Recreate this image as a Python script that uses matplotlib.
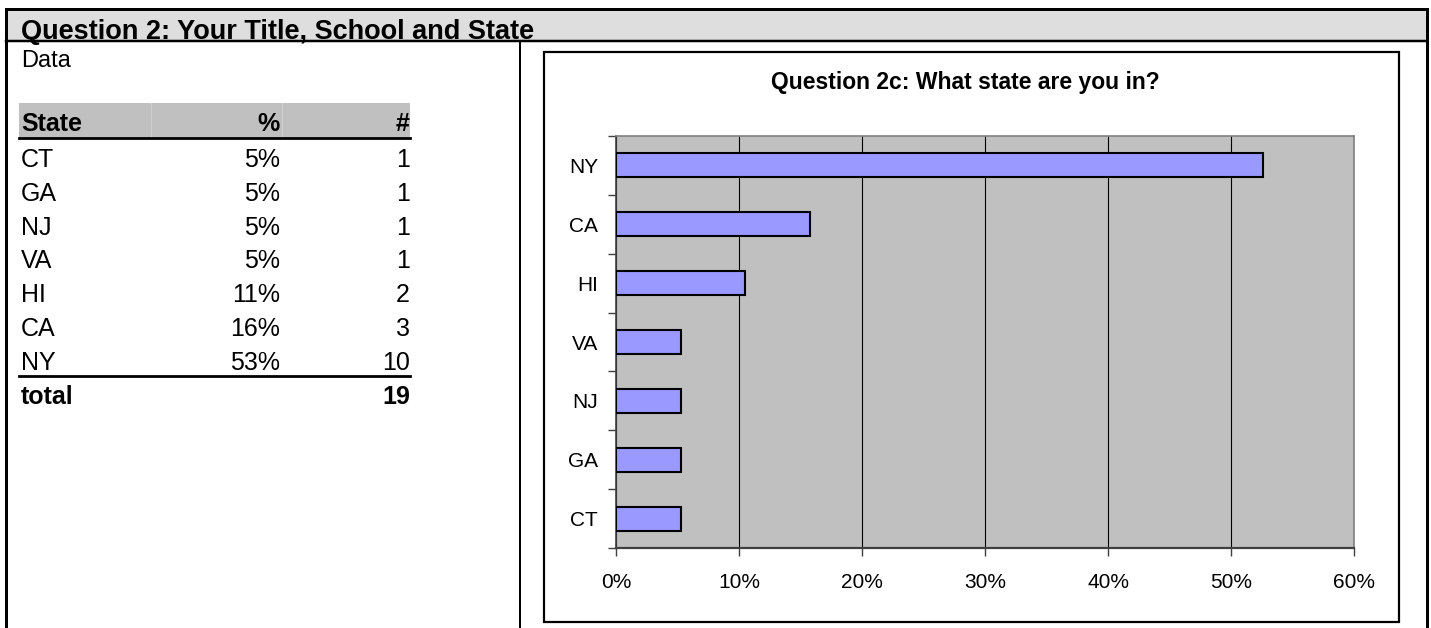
import matplotlib.pyplot as plt
from matplotlib.lines import Line2D
from matplotlib.patches import Rectangle

states = ['CT', 'GA', 'NJ', 'VA', 'HI', 'CA', 'NY']
counts = [1, 1, 1, 1, 2, 3, 10]
total = sum(counts)
shares = [100 * c / total for c in counts]

title = 'Question 2: Your Title, School and State'
chart_title = 'Question 2c: What state are you in?'
x_ticks = [0, 10, 20, 30, 40, 50, 60]

plt.rcParams['font.family'] = ['Liberation Sans', 'DejaVu Sans']

W, H = 1431, 628
fig = plt.figure(figsize=(W / 100, H / 100), dpi=100)

# page layer in pixel coordinates
page = fig.add_axes([0, 0, 1, 1])
page.set_xlim(0, W)
page.set_ylim(H, 0)
page.axis('off')

page.add_patch(Rectangle((6, 9), 1421, 32, facecolor='#dedede', edgecolor='none'))
for x0, y0, x1, y1, lw in [(6, 9, 1427, 9, 3), (6, 41, 1427, 41, 2.5),
                           (6, 9, 6, H, 3), (1427, 9, 1427, H, 3),
                           (520, 41, 520, H, 2)]:
    page.add_line(Line2D([x0, x1], [y0, y1], color='black', lw=lw * 0.72,
                         solid_capstyle='projecting'))
page.text(21, 39, title, fontsize=19.5, fontweight='bold', va='baseline')
page.text(21, 67, 'Data', fontsize=17, va='baseline')

# data table
page.add_patch(Rectangle((19, 103), 391, 35, facecolor='#c0c0c0', edgecolor='none'))
for xc in [151, 282]:
    page.add_line(Line2D([xc, xc], [103, 137], color='#d0d0d0', lw=0.8))
page.add_line(Line2D([19, 410], [138, 138], color='black', lw=2))
page.add_line(Line2D([19, 410], [376, 376], color='black', lw=2))
page.text(21, 131, 'State', fontsize=18, fontweight='bold', va='baseline')
page.text(280, 131, '%', fontsize=18, fontweight='bold', va='baseline', ha='right')
page.text(410, 131, '#', fontsize=18, fontweight='bold', va='baseline', ha='right')
for i, (s, p, c) in enumerate(zip(states, shares, counts)):
    y = 167 + i * 33.8
    page.text(21, y, s, fontsize=18, va='baseline')
    page.text(280, y, f'{p:.0f}%', fontsize=18, va='baseline', ha='right')
    page.text(410, y, str(c), fontsize=18, va='baseline', ha='right')
page.text(21, 404, 'total', fontsize=18, fontweight='bold', va='baseline')
page.text(410, 404, str(total), fontsize=18, fontweight='bold', va='baseline', ha='right')

# chart frame and title
page.add_patch(Rectangle((544, 52), 855, 570, facecolor='white', edgecolor='black', lw=1.6))
page.text(965, 83, chart_title, fontsize=16.5, fontweight='bold', ha='center', va='center')

# bar chart
ax = fig.add_axes([616 / W, 1 - 548 / H, (1354 - 616) / W, (548 - 136) / H])
ax.set_facecolor('#c0c0c0')
ax.barh(range(len(states)), shares, height=0.41, color='#9999ff',
        edgecolor='black', linewidth=1.5, zorder=3)
ax.set_xlim(0, 60)
ax.set_ylim(-0.5, len(states) - 0.5)
ax.set_xticks(x_ticks)
ax.set_xticklabels([f'{t}%' for t in x_ticks], fontsize=15)
ax.set_yticks(range(len(states)))
ax.set_yticklabels(states, fontsize=15)
ax.set_yticks([k - 0.5 for k in range(len(states) + 1)], minor=True)
ax.tick_params(axis='y', which='major', length=0, pad=13)
ax.tick_params(axis='y', which='minor', length=6, width=1, color='#404040', direction='out')
ax.tick_params(axis='x', length=6, width=1, color='#404040', direction='out', pad=12)
ax.xaxis.grid(True, color='black', lw=0.8, zorder=1)
ax.set_axisbelow(True)
for side in ['top', 'right']:
    ax.spines[side].set_color('#808080')
    ax.spines[side].set_linewidth(1.2)
ax.spines['left'].set_color('#404040')
ax.spines['left'].set_linewidth(1.2)
ax.spines['bottom'].set_color('#404040')
ax.spines['bottom'].set_linewidth(1.6)

fig.savefig('out.png', dpi=100)
